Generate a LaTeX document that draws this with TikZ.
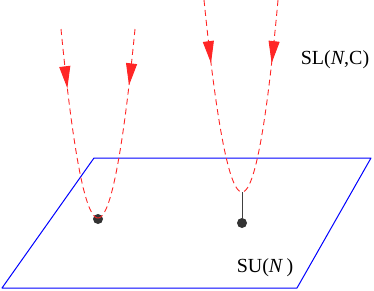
\documentclass[tikz,border=0pt]{standalone}
\usepackage{fontspec}
\setmainfont{Liberation Serif}
\usetikzlibrary{arrows.meta, decorations.markings}

\begin{document}
\begin{tikzpicture}[x=1pt, y=1pt,
  plane/.style={draw=blue, line width=1pt, line join=round},
  orbit/.style={draw=red!85!white, line width=0.9pt, dash pattern=on 6pt off 4pt},
  flow/.style={postaction={decorate}, decoration={markings,
    mark=at position #1 with {\arrow{Triangle[length=22pt, width=11pt]}}}},
  dot/.style={circle, fill=black!80, inner sep=0pt, minimum size=10pt},
  stem/.style={draw=black!75, line width=0.9pt},
  grp/.style={font=\fontsize{20}{22}\selectfont, inner sep=0pt},
]
\useasboundingbox (0,0) rectangle (374,290);

% Plane
\coordinate (q1) at (2,2);
\coordinate (q2) at (297,2);
\coordinate (q3) at (371,132);
\coordinate (q4) at (94,132);
\draw[plane] (q1) -- (q2) -- (q3) -- (q4) -- cycle;

% Points
\node[dot] (p1) at (98,71) {};
\node[dot] (p2) at (242,67) {};
\coordinate (v2) at (242,98);

% Orbits
\draw[orbit, flow=0.305] plot[domain=-1:0, samples=40, smooth] ({98+37*\x}, {72+189*\x*\x});
\draw[orbit, flow=0.29] plot[domain=-1:0, samples=40, smooth] ({98-37*\x}, {72+189*\x*\x});
\draw[orbit, flow=0.32] plot[domain=-1:0, samples=40, smooth] ({242+37*\x-\x*\x}, {98+192*\x*\x});
\draw[orbit, flow=0.32] plot[domain=-1:0, samples=40, smooth] ({242-37*\x-\x*\x}, {98+192*\x*\x});
\draw[stem] (v2) -- (p2);

% Labels
\node[grp] (sl) at (335,230) {SL(\textit{N},C)};
\node[grp] (su) at (265,22) {SU(\textit{N}\,)};
\end{tikzpicture}
\end{document}
